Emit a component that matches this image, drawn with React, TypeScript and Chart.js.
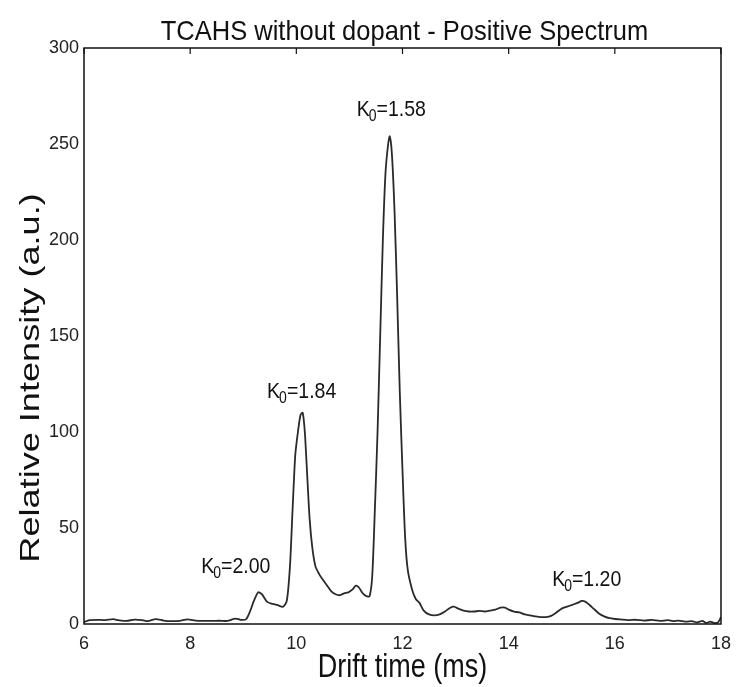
import React, { useEffect, useRef } from "react";
import { Chart, registerables } from "chart.js";

Chart.register(...registerables);

// ---- data ----
const driftTime = [
  6.0, 6.1, 6.25, 6.4, 6.55, 6.65, 6.8, 6.95, 7.1, 7.2, 7.35, 7.5, 7.65, 7.8, 7.95, 8.1, 8.25, 8.4, 8.55, 8.7, 8.85, 8.95, 9.05,
  9.12, 9.2, 9.28, 9.35, 9.45, 9.55, 9.65, 9.75, 9.82, 9.88, 9.93, 9.98, 10.03, 10.08, 10.12, 10.16, 10.2, 10.25, 10.3, 10.36,
  10.43, 10.5, 10.58, 10.66, 10.74, 10.82, 10.9, 10.98, 11.06, 11.12, 11.18, 11.25, 11.32, 11.38, 11.43, 11.48, 11.53, 11.58,
  11.63, 11.68, 11.73, 11.76, 11.8, 11.85, 11.9, 11.95, 12.0, 12.05, 12.1, 12.18, 12.25, 12.32, 12.4, 12.5, 12.6, 12.7, 12.8,
  12.9, 12.97, 13.05, 13.15, 13.25, 13.35, 13.45, 13.55, 13.65, 13.75, 13.85, 13.93, 14.0, 14.1, 14.2, 14.3, 14.4, 14.5, 14.6,
  14.7, 14.8, 14.9, 15.0, 15.1, 15.2, 15.3, 15.38, 15.45, 15.52, 15.6, 15.7, 15.8, 15.9, 16.0, 16.1, 16.25, 16.4, 16.55, 16.7,
  16.85, 17.0, 17.1, 17.2, 17.35, 17.45, 17.55, 17.65, 17.72, 17.8, 17.88, 17.95, 18.0,
];
const intensity = [
  1.0, 2.0, 2.2, 2.0, 2.5, 2.0, 1.6, 2.3, 2.0, 1.5, 2.5, 1.8, 1.5, 1.6, 2.4, 1.8, 1.6, 1.6, 1.7, 1.6, 2.8, 2.2, 2.4,
  6, 12, 16.5, 15.5, 11.5, 10.5, 9.8, 9.0, 12, 30, 60, 88, 100, 109, 110, 100, 80, 55, 40, 30,
  26, 23, 20, 17, 15.5, 15, 16, 16.5, 18, 20, 19, 16, 14.5, 14.5, 25, 60, 100, 150,
  200, 235, 250, 254, 245, 215, 170, 120, 80, 45, 28, 18, 13, 11, 7, 5, 4.5, 5, 6.5,
  8.5, 9.0, 8, 7, 6.5, 6.5, 6.8, 6.5, 7, 7.5, 8.5, 8.5, 7.5, 6.5, 6.0, 5, 4.5, 4, 3.6,
  3.6, 4.2, 6, 8, 9, 10, 11, 12, 11.5, 10, 8, 5.5, 4, 3, 2.6, 2.4, 2.0, 2.2, 1.8, 2.1,
  1.6, 2.0, 1.5, 1.8, 1.2, 1.5, 0.8, 1.6, 0.6, 1.2, 0.5, 1.0, 3.5,
];
const xTickValues = [6, 8, 10, 12, 14, 16, 18];
const yTickValues = [0, 50, 100, 150, 200, 250, 300];
const peakLabels = ["2.00", "1.84", "1.58", "1.20"];
const peakLabelX = [8.87, 10.11, 11.8, 15.48];
const peakLabelY = [30, 121, 268, 23];
const chartTitle = "TCAHS without dopant - Positive Spectrum";
const xTitle = "Drift time (ms)";
const yTitle = "Relative Intensity (a.u.)";

const FONT = '"Liberation Sans", Arial, Helvetica, sans-serif';

const decorPlugin = {
  id: "decor",
  afterDraw(chart: any) {
    const { ctx, chartArea } = chart;
    const xs = chart.scales.x;
    const ys = chart.scales.y;
    const { left, right, top, bottom } = chartArea;
    ctx.save();
    // frame
    ctx.strokeStyle = "#111";
    ctx.lineWidth = 1.5;
    ctx.strokeRect(left, top, right - left, bottom - top);
    // inward ticks on top axis
    ctx.lineWidth = 1.2;
    xTickValues.forEach((v) => {
      const px = xs.getPixelForValue(v);
      ctx.beginPath();
      ctx.moveTo(px, top);
      ctx.lineTo(px, top + 6);
      ctx.stroke();
    });
    ctx.fillStyle = "#111";
    // chart title
    ctx.save();
    ctx.font = `25px ${FONT}`;
    ctx.textAlign = "center";
    ctx.textBaseline = "alphabetic";
    ctx.translate((left + right) / 2 + 2, 40);
    ctx.scale(1.02, 1.12);
    ctx.fillText(chartTitle, 0, 0);
    ctx.restore();
    // x title
    ctx.save();
    ctx.font = `27px ${FONT}`;
    ctx.textAlign = "center";
    ctx.textBaseline = "alphabetic";
    ctx.translate((left + right) / 2, 677);
    ctx.scale(1, 1.2);
    ctx.fillText(xTitle, 0, 0);
    ctx.restore();
    // y title
    ctx.save();
    ctx.font = `28px ${FONT}`;
    ctx.textAlign = "center";
    ctx.textBaseline = "alphabetic";
    ctx.translate(39, (top + bottom) / 2 + 42);
    ctx.rotate(-Math.PI / 2);
    ctx.scale(1.29, 1);
    ctx.fillText(yTitle, 0, 0);
    ctx.restore();
    // peak labels K0=...
    peakLabels.forEach((lab, i) => {
      const cx = xs.getPixelForValue(peakLabelX[i]);
      const cy = ys.getPixelForValue(peakLabelY[i]);
      const big = `19.5px ${FONT}`;
      const small = `14px ${FONT}`;
      ctx.font = big;
      const wK = ctx.measureText("K").width;
      const wRest = ctx.measureText("=" + lab).width;
      ctx.font = small;
      const wSub = ctx.measureText("0").width;
      const total = wK + wSub + wRest;
      const x0 = cx - total / 2;
      ctx.textAlign = "left";
      ctx.textBaseline = "middle";
      ctx.save();
      ctx.translate(0, cy);
      ctx.scale(1, 1.15);
      ctx.font = big;
      ctx.fillText("K", x0, 0);
      ctx.font = small;
      ctx.fillText("0", x0 + wK - 1, 6);
      ctx.font = big;
      ctx.fillText("=" + lab, x0 + wK + wSub - 1, 0);
      ctx.restore();
    });
    ctx.restore();
  },
};

export default function App() {
  const ref = useRef<HTMLCanvasElement | null>(null);
  useEffect(() => {
    if (!ref.current) return;
    const points = driftTime.map((x, i) => ({ x, y: intensity[i] }));
    const chart = new Chart(ref.current, {
      type: "line",
      data: {
        datasets: [
          {
            data: points,
            borderColor: "#2a2a2a",
            borderWidth: 1.8,
            pointRadius: 0,
            tension: 0.25,
            fill: false,
          },
        ],
      },
      options: {
        animation: false,
        responsive: false,
        maintainAspectRatio: false,
        layout: { padding: { top: 48, right: 17, bottom: 0, left: 0 } },
        plugins: {
          legend: { display: false },
          title: { display: false },
          tooltip: { enabled: false },
        },
        scales: {
          x: {
            type: "linear",
            min: 6,
            max: 18,
            afterBuildTicks: (axis: any) => {
              axis.ticks = xTickValues.map((v) => ({ value: v }));
            },
            afterFit: (s: any) => {
              s.height = 63;
            },
            grid: { display: false, drawTicks: false },
            border: { display: false },
            ticks: {
              padding: 9,
              color: "#222",
              font: { size: 18, family: FONT },
              maxRotation: 0,
              autoSkip: false,
            },
          },
          y: {
            type: "linear",
            min: 0,
            max: 300,
            afterBuildTicks: (axis: any) => {
              axis.ticks = yTickValues.map((v) => ({ value: v }));
            },
            afterFit: (s: any) => {
              s.width = 84;
            },
            grid: { display: false, drawTicks: false },
            border: { display: false },
            ticks: {
              padding: 5,
              color: "#222",
              font: { size: 18, family: FONT },
              autoSkip: false,
            },
          },
        },
      },
      plugins: [decorPlugin],
    });
    return () => chart.destroy();
  }, []);
  return (
    <div style={{ position: "absolute", left: 0, top: 0, width: 740, height: 687, background: "#fff" }}>
      <canvas ref={ref} width={740} height={687} style={{ width: 740, height: 687, display: "block" }} />
    </div>
  );
}
